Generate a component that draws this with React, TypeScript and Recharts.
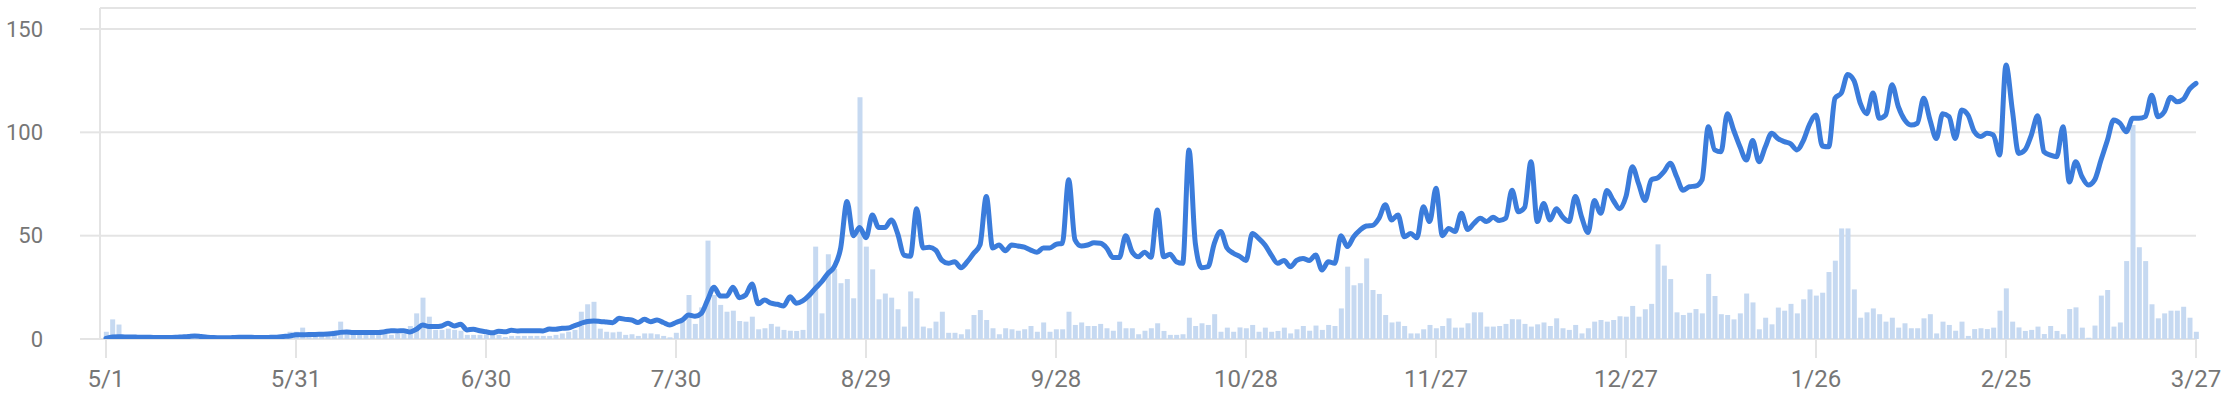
import React from 'react';
import { ComposedChart, Bar, Line, XAxis, YAxis, CartesianGrid } from 'recharts';

// one tick every 30 days, 5/1 .. 3/27 (331 days)
const tickLabels = ['5/1', '5/31', '6/30', '7/30', '8/29', '9/28', '10/28', '11/27', '12/27', '1/26', '2/25', '3/27'];
const yTicks = [0, 50, 100, 150];

// daily counts (light bars)
const dailyBars = [
  3.5, 9.5, 7, 0.5, 0.5, 0.5, 0.5, 0.5, 0.5, 0.5,
  0.5, 0.5, 0.5, 0.5, 0.5, 0.5, 0.5, 0.5, 0.5, 0.5,
  0.5, 0.5, 0.5, 0.5, 0.5, 0.5, 0.5, 0.5, 1, 3.5,
  3.5, 5.5, 2, 2, 3, 3, 4, 8.4, 4.4, 3.5,
  3, 3, 3, 3, 2.5, 2, 2.5, 2.5, 6.3, 12.4,
  20, 10.8, 4.4, 4.4, 5, 4.4, 4, 2, 2, 2,
  2, 2, 2, 1, 1.5, 1.5, 1.5, 1.5, 1.5, 1.5,
  1.5, 2, 2.7, 3.5, 4.4, 13.2, 16.8, 18, 5, 3.5,
  3.2, 3.5, 2, 2.3, 1.5, 2.7, 2.7, 2.3, 1.5, 0.8,
  3, 8.4, 21.3, 7.3, 15.3, 47.6, 21.3, 16.5, 13.2, 13.7,
  8.7, 8.4, 10.8, 4.7, 5.2, 7.3, 6, 4.4, 4, 3.9,
  4.4, 22, 44.7, 12.4, 41, 34, 27, 29, 19.7, 117,
  44.7, 33.7, 19.2, 22, 20, 14.4, 6, 23, 19.7, 6,
  5.2, 8.4, 13.2, 3, 3, 2.3, 4.7, 11.6, 14, 9.2,
  5.2, 2.3, 5.2, 4.7, 4, 4.7, 6.3, 3.5, 8, 3.5,
  4.7, 4.7, 13.2, 6.8, 8, 6.3, 6.3, 7.3, 5.2, 4,
  8.4, 5.2, 5.2, 2.3, 4, 5.2, 7.6, 3.9, 2, 2,
  2.3, 10.3, 6.3, 7.6, 6.8, 12, 3.5, 5.5, 3.5, 5.6,
  5.2, 6.8, 3.5, 5.5, 3.5, 3.9, 5.5, 2.7, 4.7, 6.3,
  4, 6.5, 4.4, 6.8, 6.3, 14.8, 35, 26, 27, 39,
  23.7, 21.8, 11.6, 8, 8.4, 6.3, 2.7, 2.7, 4.7, 6.8,
  5.2, 6.3, 10, 5.5, 5.5, 7.6, 12.9, 12.9, 6, 6,
  6.3, 7.3, 9.6, 9.5, 7.3, 6, 7.1, 8, 6.3, 10,
  5.2, 4.4, 6.8, 2.7, 5.2, 8.4, 9.2, 8.4, 9.2, 11,
  10.8, 16, 10.8, 14.4, 17, 45.8, 35.5, 29, 12.9, 11.6,
  12.7, 14.5, 12.4, 31.5, 20.8, 12, 11.6, 9.5, 12.4, 22,
  17.7, 4.7, 10.3, 7.1, 15.2, 13.7, 17, 12.4, 19.2, 24,
  21, 22.4, 32.4, 37.9, 53.5, 53.5, 24, 10.3, 12.9, 14.8,
  12, 8.4, 10.3, 5.5, 7.6, 5.2, 5.2, 10, 12, 2.7,
  8.4, 6.8, 4, 8.4, 1.5, 4.8, 5.2, 4.8, 5.5, 13.7,
  24.5, 8.4, 5.6, 3.9, 4.4, 6, 2.4, 6.3, 3.9, 2.3,
  14.5, 15.3, 5.5, 0.6, 6.5, 21, 23.7, 6, 8, 37.7,
  103.5, 44.4, 37.7, 16.8, 10, 12.4, 13.7, 13.7, 15.6, 10.3, 3.5,
];

// trend line (dark blue)
const trendLine = [
  0.3, 1, 1.1, 1, 1, 0.9, 0.8, 0.8, 0.7, 0.7,
  0.7, 0.8, 1, 1.2, 1.5, 1.2, 0.9, 0.7, 0.6, 0.6,
  0.7, 0.8, 0.8, 0.8, 0.7, 0.7, 0.8, 0.9, 1.2, 1.5,
  2, 2, 2.2, 2.2, 2.3, 2.4, 2.7, 3.2, 3.4, 3.2,
  3.2, 3.2, 3.2, 3.2, 3.5, 4, 3.9, 4, 3.4, 4.7,
  6.8, 6, 6, 6.3, 7.6, 6.3, 7.1, 4.4, 4.7, 4,
  3.5, 3, 3.7, 3.5, 4.2, 3.9, 4, 4, 4, 3.9,
  4.8, 4.7, 5.2, 5.3, 6.5, 7.6, 8.5, 8.7, 8.5, 8.2,
  7.9, 10, 9.5, 9.2, 8, 9.5, 8.4, 9.2, 8, 6.8,
  8, 9.2, 11.6, 11, 12.4, 18.9, 25, 20.8, 20.8, 25,
  20, 21.3, 26.6, 17, 18.9, 17.3, 16.8, 16, 20.5, 17.3,
  18.4, 21, 24.5, 27.7, 31.8, 35, 44, 66.5, 50, 54,
  49, 60, 54, 54, 57.6, 51, 40.6, 40, 63, 44,
  44.4, 43, 38, 36.6, 37.4, 34.5, 37.4, 41.5, 45.5, 69,
  44, 45.5, 42.7, 45.5, 45, 44.4, 43, 42, 44, 44,
  45.8, 46.3, 77, 48, 45, 45.5, 46.6, 46.3, 44, 39.4,
  39.4, 50, 42.3, 39.8, 42, 39.5, 62.4, 39.8, 41, 37.4,
  36.6, 91.5, 46.3, 34.5, 35, 46.3, 52, 44, 41.5, 40,
  38, 51, 48.7, 45.5, 40.6, 36.6, 38, 35, 38, 39,
  38, 40.6, 33.4, 37.4, 36.6, 50, 44.7, 49.5, 52.7, 54.7,
  55, 58.4, 65, 57.6, 60, 49.5, 51, 49, 64, 56.8,
  73, 50, 53.5, 52, 60.8, 53, 56, 58.4, 56.8, 58.9,
  57.3, 58.4, 72, 61.6, 63.7, 85.8, 56.8, 65.6, 57.6, 63,
  59, 56.8, 69, 59, 51.5, 67, 60.8, 71.8, 67, 63,
  69, 83.4, 75, 67, 77, 78, 81, 85, 78.5, 72,
  73.7, 74, 77, 102.7, 91.5, 90.6, 109, 101, 93, 86.6,
  96, 85.8, 93, 99.5, 97, 95.5, 94.4, 91.5, 96, 104,
  108.4, 93.4, 93, 116.5, 119, 128, 125, 114, 109, 119,
  106.8, 108.4, 123, 112.4, 106, 103.5, 104.4, 116.5, 106, 97,
  109, 107.6, 97, 110.8, 108.4, 100.3, 98, 99.5, 98.7, 89,
  132.6, 110.8, 89.8, 91.5, 98.7, 108, 90.6, 89, 88.2, 102.7,
  76, 85.8, 78.5, 74.5, 77, 86.6, 96, 106, 104.4, 100.3,
  106.8, 106.8, 107.6, 118, 107.6, 110, 117, 114.8, 116, 121, 123.7,
];

const data = dailyBars.map((bar, i) => ({ day: i, bar, line: trendLine[i] }));
const tickDays = tickLabels.map((_, i) => i * 30);

const GRID = '#e4e4e4';
const LABEL = '#767676';

export default function App() {
  return (
    <div style={{ position: 'absolute', left: 0, top: 0, width: 2230, height: 410, background: '#fff', fontFamily: 'Roboto, sans-serif' }}>
      <ComposedChart width={2230} height={410} data={data} margin={{ top: 8, right: 34, bottom: 21, left: 0 }}>
        <CartesianGrid vertical={false} stroke={GRID} strokeWidth={2} />
        <XAxis
          type="number"
          dataKey="day"
          domain={[0, 330]}
          ticks={tickDays}
          interval={0}
          tickFormatter={(v: number) => tickLabels[Math.round(v / 30)]}
          padding={{ left: 6, right: 0 }}
          axisLine={false}
          tickLine={{ stroke: GRID, strokeWidth: 2 }}
          tickSize={19}
          tickMargin={12}
          height={50}
          tick={{ fontSize: 24, fill: LABEL }}
        />
        <YAxis
          domain={[0, 160.16]}
          ticks={yTicks}
          allowDataOverflow
          width={100}
          axisLine={{ stroke: GRID, strokeWidth: 2 }}
          tickLine={{ stroke: GRID, strokeWidth: 2 }}
          tickSize={20}
          tickMargin={37}
          tick={{ fontSize: 22, fill: LABEL }}
        />
        <Bar dataKey="bar" fill="#c6d9f1" barSize={5} isAnimationActive={false} />
        <Line
          type="monotone"
          dataKey="line"
          stroke="#3b7cdb"
          strokeWidth={5}
          strokeLinejoin="round"
          strokeLinecap="round"
          dot={false}
          activeDot={false}
          isAnimationActive={false}
        />
      </ComposedChart>
    </div>
  );
}
